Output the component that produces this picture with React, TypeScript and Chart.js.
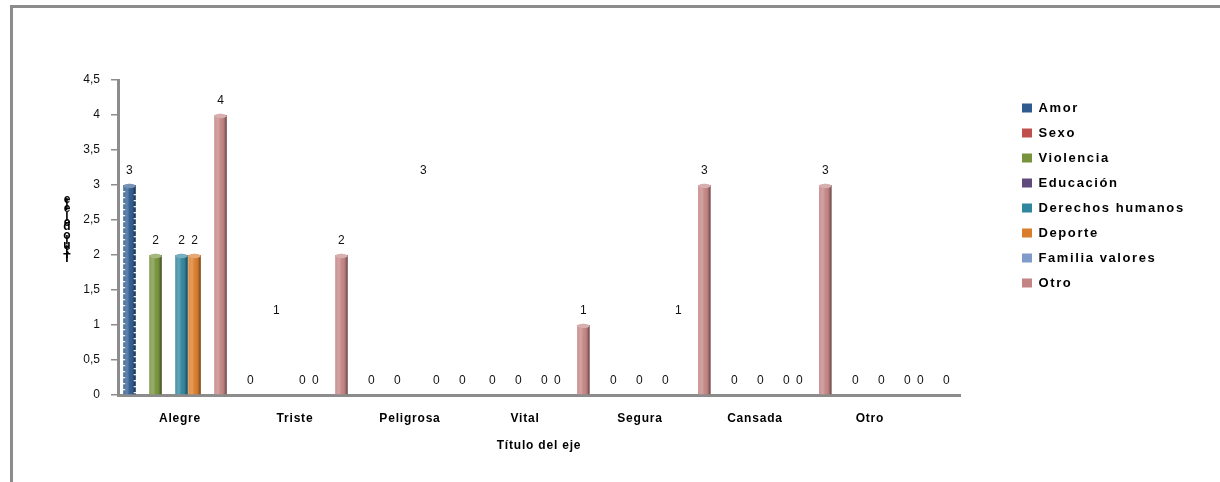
import React, { useEffect, useRef } from 'react';
import { Chart, registerables } from 'chart.js';

Chart.register(...registerables);

// ---- data ----
const categories = ['Alegre', 'Triste', 'Peligrosa', 'Vital', 'Segura', 'Cansada', 'Otro'];
const seriesNames = ['Amor', 'Sexo', 'Violencia', 'Educación', 'Derechos humanos', 'Deporte', 'Familia valores', 'Otro'];

const amor = [3, 0, 0, 0, 0, 0, 0];
const sexo = [null, null, null, null, null, null, null];
const violencia = [2, 1, 0, 0, 0, 0, 0];
const educacion = [null, null, null, null, null, null, null];
const derechosHumanos = [2, 0, 3, 0, 0, 0, 0];
const deporte = [2, 0, 0, 0, 1, 0, 0];
const familiaValores = [null, null, null, null, null, null, null];
const otro = [4, 2, 0, 1, 3, 3, 0];

const seriesValues = [amor, sexo, violencia, educacion, derechosHumanos, deporte, familiaValores, otro];
const seriesColors = ['#2f5b8f', '#c0504d', '#77933c', '#604a7b', '#31859c', '#d97c2b', '#7f9bc9', '#c48484'];

// values that only carry their label, the column itself is not painted: [series, category]
const labelOnlyColumns: [number, number][] = [[2, 1], [4, 2], [5, 4]];

const yTickValues = [0, 0.5, 1, 1.5, 2, 2.5, 3, 3.5, 4, 4.5];
const axisTitle = 'Título del eje';

const FONT = "'Liberation Sans', Arial, sans-serif";
const GREY = '#8c8c8c';
const LEGEND_SPACING = '1.6px';

const isLabelOnly = (s: number, i: number) => labelOnlyColumns.some(([a, b]) => a === s && b === i);

// 3D-ish shading, cylinder caps and value labels on top of the columns
const columnDecor = {
  id: 'columnDecor',
  afterDatasetsDraw(chart: any) {
    const ctx = chart.ctx as CanvasRenderingContext2D;
    chart.data.datasets.forEach((ds: any, di: number) => {
      const meta = chart.getDatasetMeta(di);
      meta.data.forEach((bar: any, i: number) => {
        const v = ds.data[i];
        if (v === null || v === undefined) return;
        const { x, y, base, width } = bar.getProps(['x', 'y', 'base', 'width'], true);
        const h = Math.abs(base - y);
        if (h > 0.5 && !isLabelOnly(di, i)) {
          const left = x - width / 2;
          const top = Math.min(y, base);
          ctx.save();
          const g = ctx.createLinearGradient(left, 0, left + width, 0);
          g.addColorStop(0, 'rgba(255,255,255,0.12)');
          g.addColorStop(0.3, 'rgba(255,255,255,0.25)');
          g.addColorStop(0.55, 'rgba(255,255,255,0)');
          g.addColorStop(0.8, 'rgba(0,0,0,0.12)');
          g.addColorStop(1, 'rgba(0,0,0,0.5)');
          ctx.fillStyle = g;
          ctx.fillRect(left, top, width, h);
          // cap
          ctx.beginPath();
          ctx.ellipse(x, top + 1, width / 2, 2.2, 0, 0, Math.PI * 2);
          ctx.fillStyle = seriesColors[di];
          ctx.fill();
          ctx.fillStyle = 'rgba(255,255,255,0.35)';
          ctx.fill();
          if (di === 0) {
            ctx.fillStyle = 'rgba(255,255,255,0.9)';
            for (let yy = top + 6; yy < base - 2; yy += 6) {
              ctx.fillRect(left - 1, yy, 3, 1.3);
              ctx.fillRect(left + width - 2, yy + 3, 3, 1.3);
            }
          }
          ctx.restore();
        }
        ctx.save();
        ctx.font = `12px ${FONT}`;
        ctx.fillStyle = '#111';
        ctx.textAlign = 'center';
        ctx.textBaseline = 'middle';
        ctx.fillText(String(v), x, y - 14);
        ctx.restore();
      });
    });
  },
};

// vertical axis title, glyphs stacked upright from bottom to top
const stackedAxisTitle = {
  id: 'stackedAxisTitle',
  afterDraw(chart: any) {
    const ctx = chart.ctx as CanvasRenderingContext2D;
    ctx.save();
    ctx.font = `bold 12px ${FONT}`;
    ctx.fillStyle = '#000';
    ctx.textAlign = 'center';
    ctx.textBaseline = 'middle';
    const chars = Array.from(axisTitle);
    chars.forEach((ch, k) => ctx.fillText(ch, 67, 259 - k * 4.6));
    ctx.restore();
  },
};

// wider tracking for legend and category labels
const withSpacing = (chart: any, obj: any, key: string, spacing: string) => {
  if (!obj || obj['__t_' + key]) return;
  const orig = obj[key].bind(obj);
  obj[key] = (...args: any[]) => {
    const c = chart.ctx as any;
    const prev = c.letterSpacing;
    c.letterSpacing = spacing;
    const r = orig(...args);
    c.letterSpacing = prev || '0px';
    return r;
  };
  obj['__t_' + key] = true;
};

const tracking = {
  id: 'tracking',
  beforeLayout(chart: any) {
    withSpacing(chart, chart.legend, 'fit', LEGEND_SPACING);
    withSpacing(chart, chart.legend, 'draw', LEGEND_SPACING);
  },
  afterLayout(chart: any) {
    withSpacing(chart, chart.scales.xl, 'drawLabels', '0.8px');
    withSpacing(chart, chart.scales.xl, 'drawTitle', '0.8px');
  },
};

export default function App() {
  const canvasRef = useRef<HTMLCanvasElement>(null);

  useEffect(() => {
    const canvas = canvasRef.current!;
    const m = canvas.getContext('2d')! as any;
    m.font = `bold 13px ${FONT}`;
    m.letterSpacing = LEGEND_SPACING;
    const maxText = Math.max(...seriesNames.map((n) => m.measureText(n).width));
    m.letterSpacing = '0px';
    const legendPad = 12;
    const legendWidth = legendPad + 10 + 6.5 + maxText + 10;
    const padRight = Math.max(0, 1220 - 1010 - legendWidth);

    const chart = new Chart(canvas, {
      type: 'bar',
      data: {
        labels: categories.map((_, i) => i),
        datasets: seriesNames.map((name, si) => ({
          label: name,
          data: seriesValues[si],
          xAxisID: 'x',
          yAxisID: 'y',
          backgroundColor: (c: any) =>
            c.dataIndex !== undefined && isLabelOnly(si, c.dataIndex) ? 'rgba(0,0,0,0)' : seriesColors[si],
          borderWidth: 0,
          categoryPercentage: 0.86,
          barPercentage: 0.96,
        })),
      },
      options: {
        responsive: false,
        maintainAspectRatio: false,
        animation: false,
        events: [],
        layout: { padding: { top: 80, left: 0, right: padRight, bottom: 0 } },
        scales: {
          x: {
            type: 'linear',
            axis: 'x',
            position: 'bottom',
            display: false,
            offset: false,
            min: -0.471,
            max: 6.49,
            afterBuildTicks: (s: any) => {
              s.ticks = categories.map((_, i) => ({ value: i }));
            },
          },
          xl: {
            type: 'linear',
            axis: 'x',
            position: 'bottom',
            offset: false,
            min: -0.539,
            max: 6.783,
            afterBuildTicks: (s: any) => {
              s.ticks = categories.map((_, i) => ({ value: i }));
            },
            afterFit: (s: any) => {
              s.height = 87;
            },
            ticks: {
              autoSkip: false,
              maxRotation: 0,
              padding: 16,
              color: '#000',
              font: { family: FONT, size: 12, weight: 'bold' },
              callback: (v: any) => categories[v] ?? '',
            },
            grid: { display: true, drawOnChartArea: false, drawTicks: false },
            border: { display: true, color: GREY, width: 3 },
            title: {
              display: true,
              text: axisTitle,
              color: '#000',
              font: { family: FONT, size: 12, weight: 'bold' },
              padding: { top: 0, bottom: 29 },
            },
          },
          y: {
            type: 'linear',
            position: 'left',
            min: 0,
            max: 4.5,
            afterBuildTicks: (s: any) => {
              s.ticks = yTickValues.map((value) => ({ value }));
            },
            afterFit: (s: any) => {
              s.width = 118;
            },
            ticks: {
              padding: 11,
              color: '#111',
              font: { family: FONT, size: 12 },
              callback: (v: any) => String(v).replace('.', ','),
            },
            grid: {
              drawOnChartArea: false,
              drawTicks: true,
              tickLength: 7,
              color: GREY,
              tickColor: GREY,
              lineWidth: 1.5,
            },
            border: { display: true, color: GREY, width: 3 },
          },
          yr: {
            type: 'linear',
            axis: 'y',
            position: 'right',
            ticks: { display: false },
            grid: { display: false },
            border: { display: false },
            afterFit: (s: any) => {
              s.width = 50;
            },
          },
        },
        plugins: {
          tooltip: { enabled: false },
          legend: {
            position: 'right',
            align: 'start',
            title: { display: true, text: ' ', padding: 0, font: { size: 8 } },
            labels: {
              boxWidth: 10,
              boxHeight: 9,
              padding: legendPad,
              color: '#000',
              font: { family: FONT, size: 13, weight: 'bold' },
              generateLabels: (ch: any) =>
                ch.data.datasets.map((ds: any, i: number) => ({
                  text: ds.label,
                  fillStyle: seriesColors[i],
                  strokeStyle: seriesColors[i],
                  fontColor: '#000',
                  lineWidth: 0,
                  hidden: false,
                  datasetIndex: i,
                })),
            },
          },
        },
      },
      plugins: [columnDecor, stackedAxisTitle, tracking],
    } as any);

    return () => chart.destroy();
  }, []);

  return (
    <div style={{ position: 'absolute', left: 0, top: 0, width: 1220, height: 482, background: '#fff', overflow: 'hidden' }}>
      <div
        style={{
          position: 'absolute',
          left: 10,
          top: 5,
          right: 0,
          bottom: 0,
          borderTop: `3px solid ${GREY}`,
          borderLeft: `3px solid ${GREY}`,
        }}
      />
      <canvas
        ref={canvasRef}
        width={1220}
        height={482}
        style={{ position: 'absolute', left: 0, top: 0, width: 1220, height: 482 }}
      />
    </div>
  );
}
